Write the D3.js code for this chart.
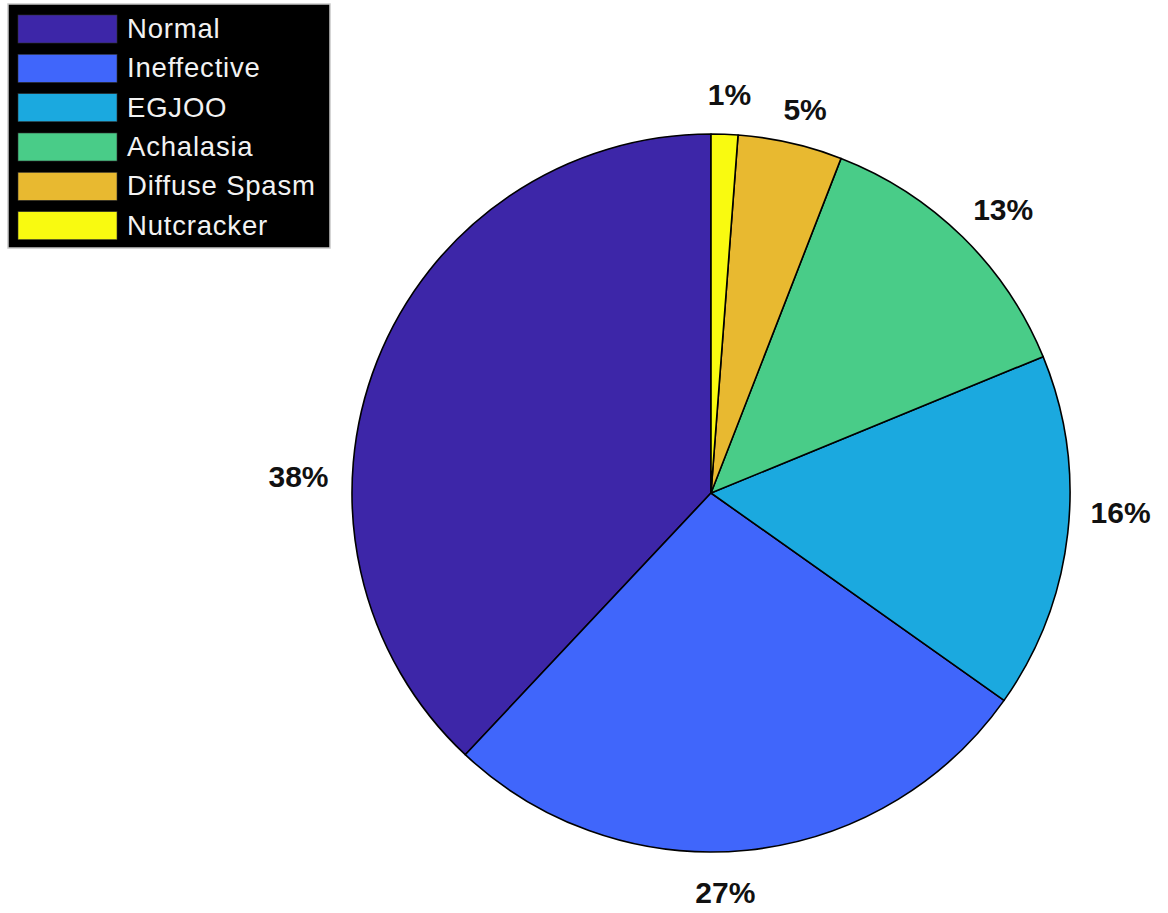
<!DOCTYPE html>
<html>
<head>
<meta charset="utf-8">
<script src="https://cdn.jsdelivr.net/npm/d3@7"></script>
<style>
  html, body { margin: 0; padding: 0; background: #ffffff; }
  svg { display: block; }
</style>
</head>
<body>
<svg id="chart" width="1168" height="913"></svg>
<script>
// Manometry diagnosis breakdown (percent of patients)
const categories = ["Normal", "Ineffective", "EGJOO", "Achalasia", "Diffuse Spasm", "Nutcracker"];
const shares = [38.0, 27.2, 16.0, 12.9, 4.7, 1.2];
const colors = ["#3d26a8", "#4066fb", "#1ba9df", "#49cc88", "#e8b930", "#f9fa10"];
// Percentage label placement: extra counter-clockwise rotation (deg) and distance (x radius)
const labelShiftDeg = [19.2, -3.7, 3.8, -1.4, -1.0, -0.5];
const labelDist = [1.150, 1.113, 1.142, 1.134, 1.100, 1.112];

const svg = d3.select("#chart");
const cx = 711, cy = 493, R = 359;

const data = categories.map((c, i) => ({
  name: c, value: shares[i], color: colors[i], shift: labelShiftDeg[i], dist: labelDist[i]
}));

// Slices run counter-clockwise starting from 12 o'clock
const pie = d3.pie().value(d => d.value).sort(null)
  .startAngle(0).endAngle(-2 * Math.PI);
const arcs = pie(data);
const arc = d3.arc().innerRadius(0).outerRadius(R);

const g = svg.append("g").attr("transform", `translate(${cx},${cy})`);

g.selectAll("path.slice")
  .data(arcs)
  .join("path")
  .attr("class", "slice")
  .attr("d", arc)
  .attr("fill", d => d.data.color)
  .attr("stroke", "#000")
  .attr("stroke-width", 1.6)
  .attr("stroke-linejoin", "round");

// Percentage labels outside the pie
const fmt = d => d3.format(".0f")(d) + "%";
g.selectAll("text.pct")
  .data(arcs)
  .join("text")
  .attr("class", "pct")
  .attr("transform", d => {
    const mid = (d.startAngle + d.endAngle) / 2 - d.data.shift * Math.PI / 180;
    const r = R * d.data.dist;
    return `translate(${r * Math.sin(mid)},${-r * Math.cos(mid)})`;
  })
  .attr("text-anchor", "middle")
  .attr("dy", "0.36em")
  .attr("font-family", "Liberation Sans, Arial, sans-serif")
  .attr("font-weight", "bold")
  .attr("font-size", 30)
  .attr("fill", "#111")
  .text(d => fmt(d.data.value));

// Legend
const legend = svg.append("g");
legend.append("rect")
  .attr("x", 8).attr("y", 4)
  .attr("width", 322).attr("height", 244)
  .attr("fill", "#000")
  .attr("stroke", "#c8c8c8")
  .attr("stroke-width", 1.5);

const rowY = d3.scaleBand().domain(categories).range([10, 246]);

const rows = legend.selectAll("g.row")
  .data(data)
  .join("g")
  .attr("class", "row")
  .attr("transform", d => `translate(0,${rowY(d.name)})`);

rows.append("rect")
  .attr("x", 18).attr("y", 5)
  .attr("width", 99).attr("height", 28)
  .attr("fill", d => d.color)
  .attr("stroke", "#333")
  .attr("stroke-width", 0.6);

rows.append("text")
  .attr("x", 127)
  .attr("y", 28)
  .attr("font-family", "Liberation Sans, Arial, sans-serif")
  .attr("font-size", 27.5)
  .attr("letter-spacing", 0.8)
  .attr("fill", "#f2f2f2")
  .text(d => d.name);
</script>
</body>
</html>
